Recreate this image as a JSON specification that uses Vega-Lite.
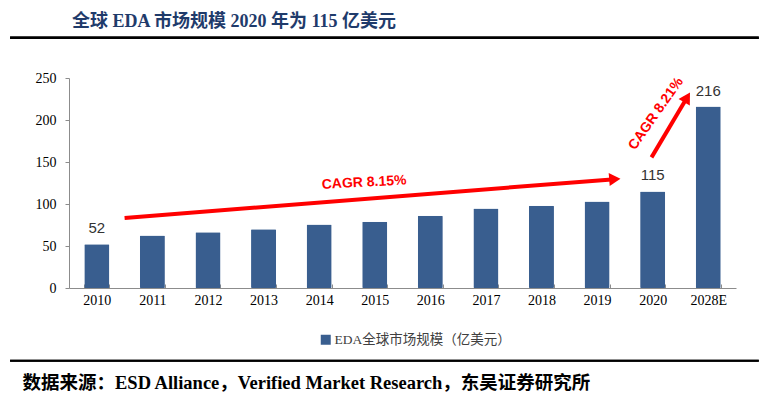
{
  "$schema": "https://vega.github.io/schema/vega-lite/v6.json",
  "width": 667,
  "height": 210,
  "autosize": {"type": "none"},
  "padding": {"left": 69, "top": 78, "right": 32, "bottom": 109},
  "background": "white",
  "title": {
    "text": "全球 EDA 市场规模 2020 年为 115 亿美元",
    "anchor": "start",
    "frame": "group",
    "dx": 3,
    "dy": 17,
    "offset": 8,
    "font": "Liberation Serif, Noto Sans CJK SC",
    "fontSize": 18,
    "fontWeight": "bold",
    "color": "#1f3b6b",
    "baseline": "alphabetic"
  },
  "config": {"view": {"stroke": null}},
  "datasets": {
    "market": [
      {"year": "2010", "value": 52, "label": "52", "series": "EDA全球市场规模（亿美元）"},
      {"year": "2011", "value": 62.5, "label": null, "series": "EDA全球市场规模（亿美元）"},
      {"year": "2012", "value": 66.5, "label": null, "series": "EDA全球市场规模（亿美元）"},
      {"year": "2013", "value": 70, "label": null, "series": "EDA全球市场规模（亿美元）"},
      {"year": "2014", "value": 75.5, "label": null, "series": "EDA全球市场规模（亿美元）"},
      {"year": "2015", "value": 79, "label": null, "series": "EDA全球市场规模（亿美元）"},
      {"year": "2016", "value": 86, "label": null, "series": "EDA全球市场规模（亿美元）"},
      {"year": "2017", "value": 94.5, "label": null, "series": "EDA全球市场规模（亿美元）"},
      {"year": "2018", "value": 98, "label": null, "series": "EDA全球市场规模（亿美元）"},
      {"year": "2019", "value": 103, "label": null, "series": "EDA全球市场规模（亿美元）"},
      {"year": "2020", "value": 115, "label": "115", "series": "EDA全球市场规模（亿美元）"},
      {"year": "2028E", "value": 216, "label": "216", "series": "EDA全球市场规模（亿美元）"}
    ],
    "arrows": [
      {"label": "CAGR 8.15%", "x": 1.0, "y": 83.3, "x2": 9.82, "y2": 129.6, "tx": 5.31, "ty": 125.4},
      {"label": "CAGR 8.21%", "x": 10.48, "y": 155.5, "x2": 11.12, "y2": 226.9, "tx": 10.56, "ty": 207.5}
    ]
  },
  "layer": [
    {
      "data": {"name": "market"},
      "layer": [
        {
          "mark": {"type": "bar", "cornerRadius": 1},
          "encoding": {
            "x": {
              "field": "year", "type": "ordinal", "sort": null,
              "scale": {"paddingInner": 0.55, "paddingOuter": 0.275},
              "axis": {
                "title": "数据来源：ESD Alliance，Verified Market Research，东吴证券研究所",
                "titleFont": "Liberation Serif, Noto Sans CJK SC",
                "titleFontSize": 18.5,
                "titleFontWeight": "bold",
                "titleColor": "#000000",
                "titleAlign": "left",
                "titleAnchor": "start",
                "titleBaseline": "middle",
                "titleX": -47,
                "titleY": 94,
                "labelAngle": 0,
                "labelFont": "Liberation Serif",
                "labelFontSize": 14,
                "labelColor": "#000000",
                "labelPadding": 9,
                "tickBand": "extent",
                "tickSize": -4,
                "tickColor": "#8c8c8c",
                "domainColor": "#8c8c8c",
                "grid": false
              }
            },
            "y": {
              "field": "value", "type": "quantitative",
              "scale": {"domain": [0, 250], "nice": false},
              "axis": {
                "title": null,
                "values": [0, 50, 100, 150, 200, 250],
                "labelFont": "Liberation Serif",
                "labelFontSize": 14,
                "labelColor": "#000000",
                "labelPadding": 9,
                "tickSize": 4,
                "tickColor": "#8c8c8c",
                "domainColor": "#8c8c8c",
                "grid": false
              }
            },
            "color": {
              "field": "series", "type": "nominal",
              "scale": {"range": ["#395e8f"]},
              "legend": {
                "orient": "none",
                "legendX": 250,
                "legendY": 255,
                "title": null,
                "symbolType": "square",
                "symbolSize": 100,
                "symbolStrokeWidth": 0,
                "labelFont": "Liberation Serif, Noto Sans CJK SC",
                "labelFontSize": 13.5,
                "labelColor": "#404040",
                "labelOffset": 2,
                "labelLimit": 400
              }
            }
          }
        },
        {
          "transform": [{"filter": "datum.label != null"}],
          "mark": {"type": "text", "baseline": "alphabetic", "dy": -11, "font": "Liberation Sans", "fontSize": 15, "color": "#333333"},
          "encoding": {
            "x": {"field": "year", "type": "ordinal", "sort": null},
            "y": {"field": "value", "type": "quantitative", "scale": {"domain": [0, 250], "nice": false}},
            "text": {"field": "label"}
          }
        }
      ]
    },
    {
      "data": {"name": "arrows"},
      "layer": [
        {
          "mark": {"type": "rule", "color": "#ff0000", "strokeWidth": 4},
          "encoding": {
            "x": {"field": "x", "type": "quantitative", "scale": {"domain": [0, 12], "nice": false, "zero": false}, "axis": null},
            "x2": {"field": "x2"},
            "y": {"field": "y", "type": "quantitative", "scale": {"domain": [0, 250], "nice": false}},
            "y2": {"field": "y2"}
          }
        },
        {
          "transform": [{"filter": "datum.label == 'CAGR 8.15%'"}],
          "mark": {"type": "point", "shape": "triangle-right", "filled": true, "opacity": 1, "color": "#ff0000", "size": 170, "angle": 355.5},
          "encoding": {
            "x": {"field": "x2", "type": "quantitative", "scale": {"domain": [0, 12], "nice": false, "zero": false}, "axis": null},
            "y": {"field": "y2", "type": "quantitative", "scale": {"domain": [0, 250], "nice": false}}
          }
        },
        {
          "transform": [{"filter": "datum.label == 'CAGR 8.21%'"}],
          "mark": {"type": "point", "shape": "triangle-right", "filled": true, "opacity": 1, "color": "#ff0000", "size": 170, "angle": 300.8},
          "encoding": {
            "x": {"field": "x2", "type": "quantitative", "scale": {"domain": [0, 12], "nice": false, "zero": false}, "axis": null},
            "y": {"field": "y2", "type": "quantitative", "scale": {"domain": [0, 250], "nice": false}}
          }
        },
        {
          "transform": [{"filter": "datum.label == 'CAGR 8.15%'"}],
          "mark": {"type": "text", "font": "Liberation Sans", "fontWeight": "bold", "fontSize": 14, "color": "#ff0000", "angle": 357, "baseline": "middle", "align": "center"},
          "encoding": {
            "x": {"field": "tx", "type": "quantitative", "scale": {"domain": [0, 12], "nice": false, "zero": false}, "axis": null},
            "y": {"field": "ty", "type": "quantitative", "scale": {"domain": [0, 250], "nice": false}},
            "text": {"field": "label"}
          }
        },
        {
          "transform": [{"filter": "datum.label == 'CAGR 8.21%'"}],
          "mark": {"type": "text", "font": "Liberation Sans", "fontWeight": "bold", "fontSize": 14, "color": "#ff0000", "angle": 305, "baseline": "middle", "align": "center"},
          "encoding": {
            "x": {"field": "tx", "type": "quantitative", "scale": {"domain": [0, 12], "nice": false, "zero": false}, "axis": null},
            "y": {"field": "ty", "type": "quantitative", "scale": {"domain": [0, 250], "nice": false}},
            "text": {"field": "label"}
          }
        },
        {
          "mark": {"type": "rule", "color": "#000000", "strokeWidth": 2.5},
          "encoding": {
            "x": {"datum": -1.06, "type": "quantitative", "scale": {"domain": [0, 12], "nice": false, "zero": false}, "axis": null},
            "x2": {"datum": 12.41},
            "y": {"datum": 298, "type": "quantitative", "scale": {"domain": [0, 250], "nice": false}}
          }
        },
        {
          "mark": {"type": "rule", "color": "#000000", "strokeWidth": 2},
          "encoding": {
            "x": {"datum": -1.06, "type": "quantitative", "scale": {"domain": [0, 12], "nice": false, "zero": false}, "axis": null},
            "x2": {"datum": 12.41},
            "y": {"datum": -86.5, "type": "quantitative", "scale": {"domain": [0, 250], "nice": false}}
          }
        }
      ]
    }
  ],
  "resolve": {"scale": {"x": "independent"}}
}
